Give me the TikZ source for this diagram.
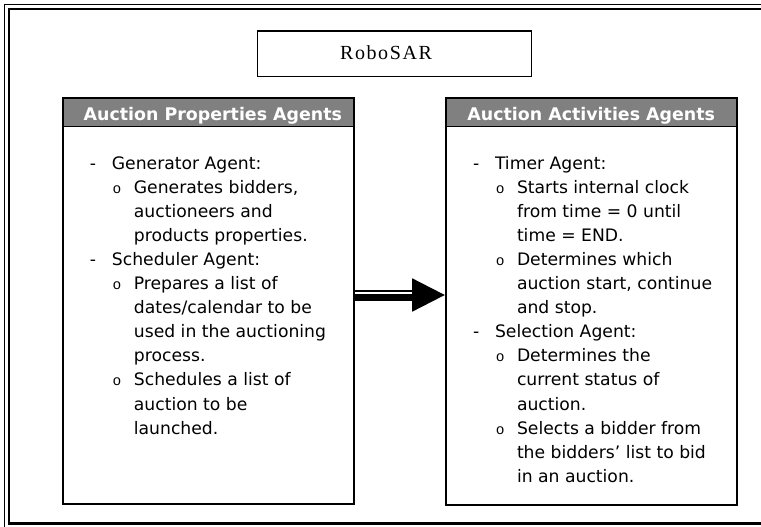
\documentclass[tikz,border=0pt]{standalone}
\usepackage{fontspec}
\setmainfont{DejaVu Sans}
\newfontfamily\titlefont{Liberation Serif}[LetterSpace=8]
\newfontfamily\bulletfont{Liberation Mono}
\usetikzlibrary{calc}

\definecolor{hdrgray}{RGB}{128,128,128}

% list lines: first level (dash), second level (o bullet), continuation
\newcommand\Lone[1]{\makebox[22pt][l]{-}#1\par}
\newcommand\Ltwo[1]{\hspace*{22pt}\makebox[22pt][l]{\hspace{0.8pt}\bulletfont\fontsize{14.5}{16}\selectfont o}#1\par}
\newcommand\Lcont[1]{\hspace*{44pt}#1\par}
\newcommand\agentlist[1]{\vtop{\hsize=290pt\fontsize{17.2}{24.1}\selectfont
  \parindent=0pt\parskip=0pt\leftskip=0pt\rightskip=0pt plus 1fil
  \lineskiplimit=-20pt #1}}

\tikzset{
  panel/.style={draw=black, line width=1.8pt, fill=white, inner sep=0pt,
    minimum width=291.5pt, minimum height=406.5pt, anchor=north west},
  panelhead/.style={draw=black, line width=1.8pt, fill=hdrgray, inner sep=0pt,
    minimum width=291.5pt, minimum height=28.8pt, anchor=north west},
  headtext/.style={text=white, inner sep=0pt, anchor=base,
    font=\fontsize{17.4}{20}\selectfont\bfseries},
  bodytext/.style={inner sep=0pt, anchor=base west},
}

\begin{document}
\begin{tikzpicture}[x=1pt, y=-1pt]
  \useasboundingbox (0,0) rectangle (761,527);
  \clip (0,0) rectangle (761,527);
  \fill[white] (0,0) rectangle (761,527);

  % outer frame: thin outer rule and thick inner rule
  \draw[line width=1.3pt] (4.5,540) -- (4.5,4.5) -- (780,4.5);
  \draw[line width=2.6pt] (9,523.2) rectangle (780,9);

  % title box
  \node[draw=black, line width=1.6pt, inner sep=0pt, minimum width=274pt,
        minimum height=45.6pt, anchor=north west] (title) at (256.8,30.2) {};
  \node[inner sep=0pt, anchor=base, font=\titlefont\fontsize{20}{24}\selectfont]
        (titletext) at (386,59.5) {RoboSAR};

  % left panel
  \node[panel] (props) at (61.7,96.8) {};
  \node[panelhead] (propshead) at (props.north west) {};
  \node[headtext] (propslabel) at ($(props.north)+(4.5,24.2)$) {Auction Properties Agents};
  \node[bodytext] (propsbody) at ($(props.north west)+(28,72.2)$) {\agentlist{%
    \Lone{Generator Agent:}
    \Ltwo{Generates bidders,}
    \Lcont{auctioneers and}
    \Lcont{products properties.}
    \Lone{Scheduler Agent:}
    \Ltwo{Prepares a list of}
    \Lcont{dates/calendar to be}
    \Lcont{used in the auctioning}
    \Lcont{process.}
    \Ltwo{Schedules a list of}
    \Lcont{auction to be}
    \Lcont{launched.}}};

  % right panel
  \node[panel, minimum width=291pt, minimum height=406.9pt] (acts) at (444.8,96.8) {};
  \node[panelhead, minimum width=291pt] (actshead) at (acts.north west) {};
  \node[headtext] (actslabel) at ($(acts.north)+(0,24.2)$) {Auction Activities Agents};
  \node[bodytext] (actsbody) at ($(acts.north west)+(28,72.2)$) {\agentlist{%
    \Lone{Timer Agent:}
    \Ltwo{Starts internal clock}
    \Lcont{from time = 0 until}
    \Lcont{time = END.}
    \Ltwo{Determines which}
    \Lcont{auction start, continue}
    \Lcont{and stop.}
    \Lone{Selection Agent:}
    \Ltwo{Determines the}
    \Lcont{current status of}
    \Lcont{auction.}
    \Ltwo{Selects a bidder from}
    \Lcont{the bidders’ list to bid}
    \Lcont{in an auction.}}};

  % connector: thin rule over a thick shaft, solid triangular head
  \coordinate (ay) at (0,295);
  \draw[line width=1.7pt] ($(props.east|-ay)+(0,-4.1)$) -- ($(acts.west|-ay)+(-32.6,-4.1)$);
  \fill ($(props.east|-ay)+(0,-1)$) rectangle ($(acts.west|-ay)+(-32.6,6)$);
  \fill ($(acts.west|-ay)+(-32.6,-16.7)$) -- (acts.west|-ay)
        -- ($(acts.west|-ay)+(-32.6,16.7)$) -- cycle;
\end{tikzpicture}
\end{document}
